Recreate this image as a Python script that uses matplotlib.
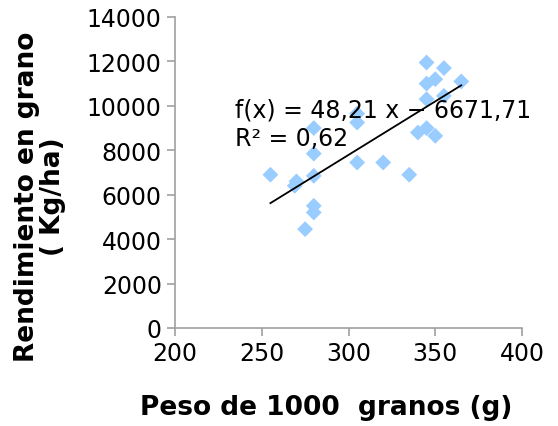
import numpy as np
import matplotlib
matplotlib.use('Agg')
import matplotlib.pyplot as plt

# data
peso = [255, 270, 269, 280, 280, 280, 280, 280, 275, 305, 305, 305, 320, 335,
        345, 355, 345, 350, 365, 345, 355, 345, 340, 350]
rend = [6900, 6600, 6400, 9000, 7850, 6850, 5500, 5200, 4450, 9650, 9250, 7450,
        7450, 6900, 11950, 11700, 11000, 11200, 11100, 10300, 10450, 9000, 8800, 8650]

slope = 48.21
intercept = -6671.71
r2 = 0.62

x_ticks = [200, 250, 300, 350, 400]
y_ticks = [0, 2000, 4000, 6000, 8000, 10000, 12000, 14000]

C_PT = '#99CCFF'
C_AX = '#A0A0A0'

fig = plt.figure(figsize=(5.58, 4.27), dpi=100)
ax = fig.add_axes([175/558, 1 - 329/427, 347/558, 311/427])

ax.scatter(peso, rend, marker='D', s=65, color=C_PT, edgecolors='none', zorder=2)

xl = np.array([min(peso), max(peso)])
ax.plot(xl, slope * xl + intercept, color='black', lw=1.3, zorder=3)

eq = f"f(x) = {slope:.2f} x − {-intercept:.2f}\nR² = {r2:.2f}".replace('.', ',')
fig.text(235/558, 1 - 125/427, eq, fontsize=17, linespacing=1.25, va='center', ha='left')

ax.set_xlim(200, 400)
ax.set_ylim(0, 14000)
ax.set_xticks(x_ticks)
ax.set_yticks(y_ticks)
ax.tick_params(labelsize=17, color=C_AX, length=6, width=1.2, direction='out')
for s in ['top', 'right']:
    ax.spines[s].set_visible(False)
for s in ['left', 'bottom']:
    ax.spines[s].set_color(C_AX)
    ax.spines[s].set_linewidth(1.2)

ax.set_xlabel('Peso de 1000  granos (g)', fontsize=19, fontweight='bold', va='center')
ax.xaxis.set_label_coords(0.435, -0.254)
ax.set_ylabel('Rendimiento en grano\n( Kg/ha)', fontsize=19, fontweight='bold',
              linespacing=1.0, va='center', ha='center')
ax.yaxis.set_label_coords(-0.39, 0.424)

fig.savefig('out.png', dpi=100)
